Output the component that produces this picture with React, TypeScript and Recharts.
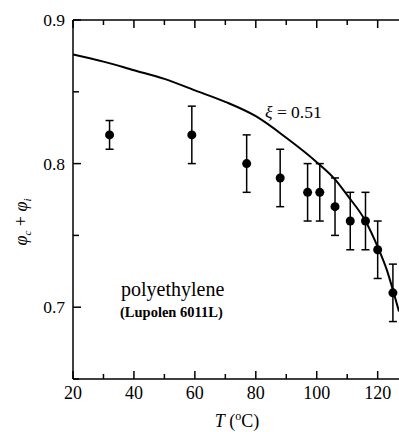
import React from "react";
import { ComposedChart, XAxis, YAxis, Line, Scatter, ErrorBar } from "recharts";

const xTicks = [20, 30, 40, 50, 60, 70, 80, 90, 100, 110, 120];
const xLabeled = [20, 40, 60, 80, 100, 120];
const yTicks = [0.65, 0.7, 0.75, 0.8, 0.85, 0.9];
const yLabeled = [0.7, 0.8, 0.9];

const tempC = [32, 59, 77, 88, 97, 101, 106, 111, 116, 120, 125];
const phiSum = [0.82, 0.82, 0.8, 0.79, 0.78, 0.78, 0.77, 0.76, 0.76, 0.74, 0.71];
const phiErr = [0.01, 0.02, 0.02, 0.02, 0.02, 0.02, 0.02, 0.02, 0.02, 0.02, 0.02];

const fitT = [20, 30, 40, 50, 60, 70, 80, 90, 100, 106, 110, 116, 120, 123, 125, 127];
const fitPhi = [0.876, 0.871, 0.865, 0.859, 0.851, 0.843, 0.833, 0.818, 0.801, 0.789, 0.778, 0.76, 0.742, 0.726, 0.712, 0.697];

const points = tempC.map((t, i) => ({ t, v: phiSum[i], e: phiErr[i] }));
const fit = fitT.map((t, i) => ({ t, v: fitPhi[i] }));

const FONT = '"Liberation Serif", "Times New Roman", serif';

const XTick = (props: any) => {
  const { x, y, payload, inward } = props;
  const major = xLabeled.includes(payload.value);
  const len = major ? 8 : 5;
  return (
    <g>
      <line x1={x} x2={x} y1={y} y2={inward === "down" ? y + len : y - len} stroke="#000" strokeWidth={1.5} />
      {major && inward !== "down" && (
        <text x={x} y={y + 20} textAnchor="middle" style={{ fontFamily: FONT }} fontSize={18} fill="#000">
          {payload.value}
        </text>
      )}
    </g>
  );
};

const TopTick = (props: any) => <XTick {...props} inward="down" />;

const YTick = (props: any) => {
  const { x, y, payload } = props;
  const major = yLabeled.some((v) => Math.abs(v - payload.value) < 1e-6);
  const len = major ? 8 : 6;
  return (
    <g>
      <line x1={x} x2={x + len} y1={y} y2={y} stroke="#000" strokeWidth={1.5} />
      {major && (
        <text x={x - 8} y={y} dy="0.35em" textAnchor="end" style={{ fontFamily: FONT }} fontSize={17.5} fill="#000">
          {payload.value.toFixed(1)}
        </text>
      )}
    </g>
  );
};

export default function App() {
  return (
    <div style={{ position: "absolute", left: 0, top: 0, width: 399, height: 432, background: "#fff", overflow: "hidden" }}>
      <ComposedChart width={399} height={432} margin={{ top: 0, right: 0, bottom: 0, left: 0 }}>
        <XAxis
          xAxisId="b"
          dataKey="t"
          type="number"
          domain={[20, 127]}
          ticks={xTicks}
          allowDataOverflow
          tick={<XTick />}
          tickLine={false}
          tickSize={0}
          tickMargin={0}
          height={53}
          axisLine={{ stroke: "#000", strokeWidth: 1.5 }}
        />
        <XAxis
          xAxisId="top"
          orientation="top"
          dataKey="t"
          type="number"
          domain={[20, 127]}
          ticks={xTicks}
          allowDataOverflow
          tick={<TopTick />}
          tickLine={false}
          tickSize={0}
          tickMargin={0}
          height={20}
          axisLine={{ stroke: "#000", strokeWidth: 1.5 }}
        />
        <YAxis
          yAxisId="l"
          dataKey="v"
          type="number"
          domain={[0.65, 0.9]}
          ticks={yTicks}
          allowDataOverflow
          tick={<YTick />}
          tickLine={false}
          tickSize={0}
          tickMargin={0}
          width={73}
          axisLine={{ stroke: "#000", strokeWidth: 1.5 }}
        />
        <Line
          xAxisId="b"
          yAxisId="l"
          data={fit}
          dataKey="v"
          type="monotone"
          stroke="#000"
          strokeWidth={2}
          dot={false}
          activeDot={false}
          isAnimationActive={false}
        />
        <Scatter
          xAxisId="b"
          yAxisId="l"
          data={points}
          dataKey="v"
          fill="#000"
          shape={(p: any) => <circle cx={p.cx} cy={p.cy} r={4.5} fill="#000" />}
          isAnimationActive={false}
        >
          <ErrorBar dataKey="e" direction="y" width={4} stroke="#000" strokeWidth={1.5} isAnimationActive={false} />
        </Scatter>
      </ComposedChart>
      <svg width={399} height={432} style={{ position: "absolute", left: 0, top: 0, pointerEvents: "none", fontFamily: FONT }}>
        <text x={265} y={118} fontSize={17.5} fill="#000">
          <tspan fontStyle="italic">ξ</tspan> = 0.51
        </text>
        <text x={121} y={296} fontSize={20} fill="#000">polyethylene</text>
        <text x={120} y={317} fontSize={14.5} fontWeight="bold" fill="#000">(Lupolen 6011L)</text>
        <text x={237} y={427} textAnchor="middle" fontSize={18} fill="#000">
          <tspan fontStyle="italic">T</tspan> (<tspan fontSize={12} dy={-7}>o</tspan><tspan dy={7}>C)</tspan>
        </text>
        <text transform="translate(27,222) rotate(-90)" textAnchor="middle" fontSize={18} fill="#000">
          <tspan fontStyle="italic">φ</tspan>
          <tspan fontStyle="italic" fontSize={11} dy={4}>c</tspan>
          <tspan dy={-4}> + </tspan>
          <tspan fontStyle="italic">φ</tspan>
          <tspan fontStyle="italic" fontSize={11} dy={4}>i</tspan>
        </text>
      </svg>
    </div>
  );
}
